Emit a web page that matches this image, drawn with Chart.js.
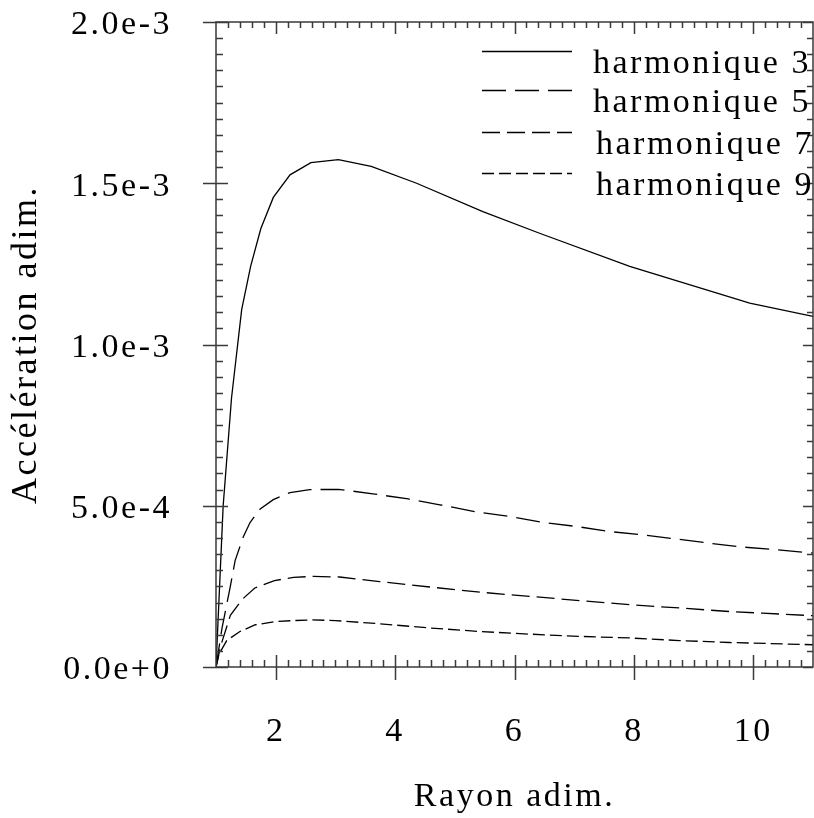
<!DOCTYPE html>
<html>
<head>
<meta charset="utf-8">
<script src="https://cdn.jsdelivr.net/npm/chart.js@4.4.0/dist/chart.umd.min.js"></script>
<style>
  html, body { margin: 0; padding: 0; background: #fff; }
  canvas { display: block; }
</style>
</head>
<body>
<canvas id="grafica" width="814" height="818"></canvas>
<script>
// accelerations en unites de 1e-3
var etiquetas = ['harmonique 3', 'harmonique 5', 'harmonique 7', 'harmonique 9'];

var rayon3 = [1, 1.12, 1.26, 1.43, 1.58, 1.75, 1.96, 2.24, 2.59, 3.05, 3.6, 4.36, 5.47, 6.42, 7.93, 9.94, 11];
var accel3 = [0, 0.50, 0.834, 1.108, 1.242, 1.359, 1.456, 1.526, 1.564, 1.573, 1.552, 1.500, 1.412, 1.345, 1.242, 1.128, 1.087];

var rayon5 = [1, 1.1, 1.24, 1.32, 1.46, 1.57, 1.74, 1.96, 2.24, 2.57, 3.05, 3.63, 4.22, 4.75, 5.33, 5.92, 6.48, 7.03, 7.59, 8.15, 8.71, 9.26, 9.82, 10.38, 11];
var accel5 = [0, 0.12, 0.25, 0.33, 0.405, 0.448, 0.49, 0.519, 0.541, 0.550, 0.551, 0.537, 0.521, 0.503, 0.482, 0.467, 0.448, 0.436, 0.420, 0.410, 0.397, 0.384, 0.372, 0.364, 0.353];

var rayon7 = [1, 1.08, 1.24, 1.44, 1.65, 1.98, 2.3, 2.63, 3.07, 3.74, 4.58, 5.42, 6.25, 7.09, 7.93, 8.76, 9.60, 10.15, 11];
var accel7 = [0, 0.066, 0.16, 0.21, 0.245, 0.268, 0.278, 0.281, 0.279, 0.265, 0.248, 0.232, 0.219, 0.206, 0.193, 0.183, 0.172, 0.167, 0.159];

var rayon9 = [1, 1.05, 1.18, 1.40, 1.66, 2.0, 2.3, 2.6, 3.0, 3.74, 4.58, 5.42, 6.25, 7.09, 7.93, 8.76, 9.60, 11];
var accel9 = [0, 0.04, 0.082, 0.11, 0.131, 0.141, 0.144, 0.146, 0.144, 0.134, 0.121, 0.110, 0.102, 0.095, 0.090, 0.082, 0.076, 0.069];

var ticksX = [2, 4, 6, 8, 10];
var ticksY = [0, 0.5, 1, 1.5, 2];
var labelsY = ['0.0e+0', '5.0e-4', '1.0e-3', '1.5e-3', '2.0e-3'];

const fuente = '"Liberation Serif", "Times New Roman", serif';
const espacio = '2.5px';

function puntos(xs, ys) {
  return xs.map((v, i) => ({ x: v, y: ys[i] }));
}

// espaciado de letras del canvas
const espaciado = {
  id: 'espaciado',
  beforeUpdate(chart) { chart.ctx.letterSpacing = espacio; },
  beforeDraw(chart) { chart.ctx.letterSpacing = espacio; }
};

// cadre + graduations sur les quatre cotes
const cadre = {
  id: 'cadre',
  afterDraw(chart) {
    const ctx = chart.ctx;
    const a = chart.chartArea;
    const sx = chart.scales.x, sy = chart.scales.y;
    ctx.save();
    ctx.strokeStyle = '#3a3a3a';
    ctx.lineWidth = 1.5;
    ctx.strokeRect(a.left, a.top, a.right - a.left, a.bottom - a.top);
    ctx.beginPath();
    for (let i = 1; i < 50; i++) {
      const v = 1 + i * 0.2;
      const px = Math.round(sx.getPixelForValue(v)) + 0.5;
      if (px > a.right) break;
      const mayor = i % 10 === 5;
      if (mayor) {
        ctx.moveTo(px, a.bottom - 12); ctx.lineTo(px, a.bottom + 13);
        ctx.moveTo(px, a.top); ctx.lineTo(px, a.top + 12);
      } else {
        ctx.moveTo(px, a.bottom); ctx.lineTo(px, a.bottom - 7);
        ctx.moveTo(px, a.top); ctx.lineTo(px, a.top + 6);
      }
    }
    for (let j = 0; j <= 40; j++) {
      const py = Math.round(sy.getPixelForValue(j * 0.05)) + 0.5;
      const mayor = j % 10 === 0;
      if (mayor) {
        ctx.moveTo(a.left - 13, py); ctx.lineTo(a.left + 12, py);
        ctx.moveTo(a.right, py); ctx.lineTo(a.right - 10, py);
      } else {
        ctx.moveTo(a.left, py); ctx.lineTo(a.left + 7, py);
        ctx.moveTo(a.right, py); ctx.lineTo(a.right - 6, py);
      }
    }
    ctx.stroke();
    ctx.restore();
  }
};

// leyenda a la derecha arriba
const leyenda = {
  id: 'leyenda',
  afterDraw(chart) {
    const ctx = chart.ctx;
    const bases = [73, 112, 154, 195];
    ctx.save();
    ctx.letterSpacing = espacio;
    ctx.font = '34px ' + fuente;
    ctx.fillStyle = '#000';
    ctx.textBaseline = 'alphabetic';
    ctx.textAlign = 'left';
    chart.data.datasets.forEach((ds, i) => {
      const yl = bases[i] - 22 + 0.5;
      ctx.strokeStyle = '#000';
      ctx.lineWidth = 1.3;
      ctx.setLineDash(ds.borderDash || []);
      ctx.beginPath();
      ctx.moveTo(482, yl);
      ctx.lineTo(572, yl);
      ctx.stroke();
      ctx.fillText(ds.label, i < 2 ? 593 : 596, bases[i]);
    });
    ctx.restore();
  }
};

function sinRelleno(s) {
  s.paddingTop = 0;
  s.paddingBottom = 0;
  s.paddingLeft = 0;
  s.paddingRight = 0;
}

const areaChartCanvas = document.getElementById('grafica');
const myChart = new Chart(areaChartCanvas, {
  type: 'scatter',
  data: {
    datasets: [{
      label: etiquetas[0],
      data: puntos(rayon3, accel3),
      borderColor: '#000',
      backgroundColor: '#000',
      borderDash: []
    }, {
      label: etiquetas[1],
      data: puntos(rayon5, accel5),
      borderColor: '#000',
      backgroundColor: '#000',
      borderDash: [24, 9]
    }, {
      label: etiquetas[2],
      data: puntos(rayon7, accel7),
      borderColor: '#000',
      backgroundColor: '#000',
      borderDash: [18, 7]
    }, {
      label: etiquetas[3],
      data: puntos(rayon9, accel9),
      borderColor: '#000',
      backgroundColor: '#000',
      borderDash: [12, 5]
    }]
  },
  options: {
    responsive: false,
    animation: false,
    devicePixelRatio: 1,
    layout: { padding: { top: 22, right: 1, left: 0, bottom: 0 } },
    datasets: {
      scatter: {
        showLine: true,
        pointRadius: 0,
        borderWidth: 1.3,
        tension: 0
      }
    },
    plugins: {
      legend: { display: false },
      tooltip: { enabled: false },
      colors: { enabled: false }
    },
    scales: {
      x: {
        type: 'linear',
        min: 1,
        max: 11,
        afterBuildTicks: s => { s.ticks = ticksX.map(v => ({ value: v })); },
        afterFit: s => { s.height = 151; sinRelleno(s); },
        grid: { display: false, drawTicks: false },
        border: { display: false },
        ticks: {
          padding: 45,
          color: '#000',
          autoSkip: false,
          maxRotation: 0,
          font: { family: fuente, size: 34 },
          callback: v => String(v)
        },
        title: {
          display: true,
          text: 'Rayon adim.',
          color: '#000',
          font: { family: fuente, size: 34 },
          padding: { top: 0, bottom: 1 }
        }
      },
      y: {
        type: 'linear',
        min: 0,
        max: 2,
        afterBuildTicks: s => { s.ticks = ticksY.map(v => ({ value: v })); },
        afterFit: s => { s.width = 216; sinRelleno(s); },
        grid: { display: false, drawTicks: false },
        border: { display: false },
        ticks: {
          padding: 44,
          labelOffset: 3.5,
          color: '#000',
          autoSkip: false,
          font: { family: fuente, size: 34 },
          callback: v => labelsY[ticksY.indexOf(v)]
        },
        title: {
          display: true,
          text: 'Accélération adim.',
          color: '#000',
          font: { family: fuente, size: 36 },
          padding: { top: 5, bottom: 0 }
        }
      }
    }
  },
  plugins: [espaciado, cadre, leyenda]
});
</script>
</body>
</html>
